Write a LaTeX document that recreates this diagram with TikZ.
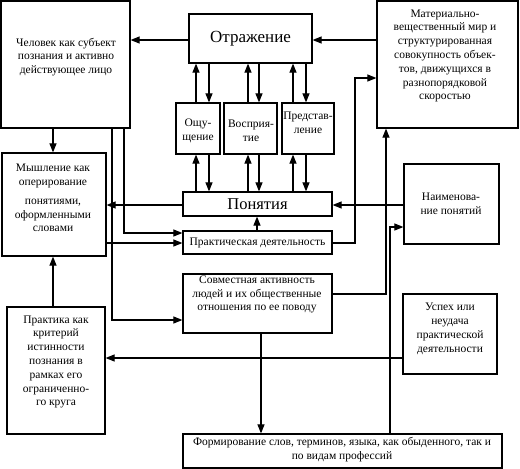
\documentclass[tikz,border=0pt]{standalone}
\usepackage{fontspec}
\setmainfont{Liberation Serif}
\newfontfamily\lserif{Liberation Serif}
\usetikzlibrary{arrows.meta}
\begin{document}
\begin{tikzpicture}[x=1pt,y=-1pt,
  box/.style={draw, line width=1.2pt, inner sep=0pt},
  txt/.style={align=center, inner sep=0pt, font=\lserif\fontsize{11.5}{13.8}\selectfont},
  arr/.style={line width=1.1pt, -{Triangle[length=9pt,width=7pt]}},
  ln/.style={line width=1.1pt}]
\useasboundingbox (0,0) rectangle (520,469);
% boxes
\node[box, minimum width=129pt, minimum height=127pt] (chel) at (65.5,64.5) {};
\node[box, minimum width=123pt, minimum height=49pt, font=\lserif\fontsize{17}{19}\selectfont] (otr) at (250.5,38.5) {Отражение};
\node[box, minimum width=141pt, minimum height=127pt] (mat) at (447.5,64.5) {};
\node[box, minimum width=44pt, minimum height=51pt] (osh) at (198,128.5) {};
\node[box, minimum width=53pt, minimum height=51pt] (vos) at (250.5,128.5) {};
\node[box, minimum width=52pt, minimum height=51pt] (pred) at (308,128.5) {};
\node[box, minimum width=149pt, minimum height=24pt, font=\lserif\fontsize{16.5}{18}\selectfont] (pon) at (257.5,204) {Понятия};
\node[box, minimum width=149pt, minimum height=23pt, txt] (prd) at (257.5,242.5) {Практическая деятельность};
\node[box, minimum width=104pt, minimum height=103pt] (mysh) at (54,204.5) {};
\node[box, minimum width=95pt, minimum height=80pt] (naim) at (451.5,204) {};
\node[box, minimum width=149pt, minimum height=59pt] (sovm) at (257.5,303.5) {};
\node[box, minimum width=98pt, minimum height=127pt] (prk) at (56,370.5) {};
\node[box, minimum width=94pt, minimum height=80pt] (usp) at (450,334) {};
\node[box, minimum width=319pt, minimum height=34pt] (form) at (342.5,451) {};
% texts
\node[txt] (tchel) at (66,57) {Человек как субъект\\познания и активно\\действующее лицо};
\node[txt] (tmat) at (445,56) {Материально-\\вещественный мир и\\структурированная\\совокупность объек-\\тов, движущихся в\\разнопорядковой\\скоростью};
\node[txt] (tosh) at (198,131) {Ощу-\\щение};
\node[txt] (tvos) at (251,131) {Восприя-\\тие};
\node[txt] (tpred) at (308,122.5) {Представ-\\ление};
\node[txt] (tmysh) at (53,198) {Мышление как\\оперирование\\[5pt]понятиями,\\оформленными\\словами};
\node[txt] (tnaim) at (451,204) {Наименова-\\ние понятий};
\node[txt] (tsovm) at (257,294.5) {Совместная активность\\людей и их общественные\\отношения по ее поводу};
\node[txt] (tprk) at (56,362) {Практика как\\критерий\\истинности\\познания в\\рамках его\\ограниченно-\\го круга};
\node[txt] (tusp) at (450,329) {Успех или\\неудача\\практической\\деятельности};
\node[txt] (tform) at (342,450) {Формирование слов, терминов, языка, как обыденного, так и\\по видам профессий};
% helper coordinates
\foreach \v in {53,112,124,196,209,248,259,257,261,293,306,355,386,390}
  \coordinate (a\v) at (\v,0);
\foreach \v in {40,78,205,227,233,243,294,320,358}
  \coordinate (b\v) at (0,\v);
% connectors
\draw[arr] (otr.west |- b40) -- (chel.east |- b40);
\draw[arr] (mat.west |- b40) -- (otr.east |- b40);
\draw[arr] (osh.north -| a196) -- (otr.south -| a196);
\draw[arr] (otr.south -| a209) -- (osh.north -| a209);
\draw[arr] (vos.north -| a248) -- (otr.south -| a248);
\draw[arr] (otr.south -| a259) -- (vos.north -| a259);
\draw[arr] (pred.north -| a293) -- (otr.south -| a293);
\draw[arr] (otr.south -| a306) -- (pred.north -| a306);
\draw[arr] (pon.north -| a196) -- (osh.south -| a196);
\draw[arr] (osh.south -| a209) -- (pon.north -| a209);
\draw[arr] (pon.north -| a248) -- (vos.south -| a248);
\draw[arr] (vos.south -| a259) -- (pon.north -| a259);
\draw[arr] (pon.north -| a293) -- (pred.south -| a293);
\draw[arr] (pred.south -| a306) -- (pon.north -| a306);
\draw[arr] (chel.south -| a53) -- (mysh.north -| a53);
\draw[arr] (pon.west |- b205) -- (mysh.east |- b205);
\draw[arr] (mysh.east |- b243) -- (prd.west |- b243);
\draw[arr] (chel.south -| a124) |- (prd.west |- b233);
\draw[arr] (chel.south -| a112) |- (sovm.west |- b320);
\draw[arr] (prd.north -| a257) -- (pon.south -| a257);
\draw[arr] (prd.east |- b243) -| (a355 |- b78) -- (mat.west |- b78);
\draw[arr] (sovm.east |- b294) -| (mat.south -| a386);
\draw[arr] (naim.west |- b205) -- (pon.east |- b205);
\draw[arr] (form.north -| a390) |- (naim.west |- b227);
\draw[arr] (sovm.south -| a261) -- (form.north -| a261);
\draw[arr] (usp.west |- b358) -- (prk.east |- b358);
\draw[arr] (prk.north -| a53) -- (mysh.south -| a53);
\end{tikzpicture}
\end{document}
